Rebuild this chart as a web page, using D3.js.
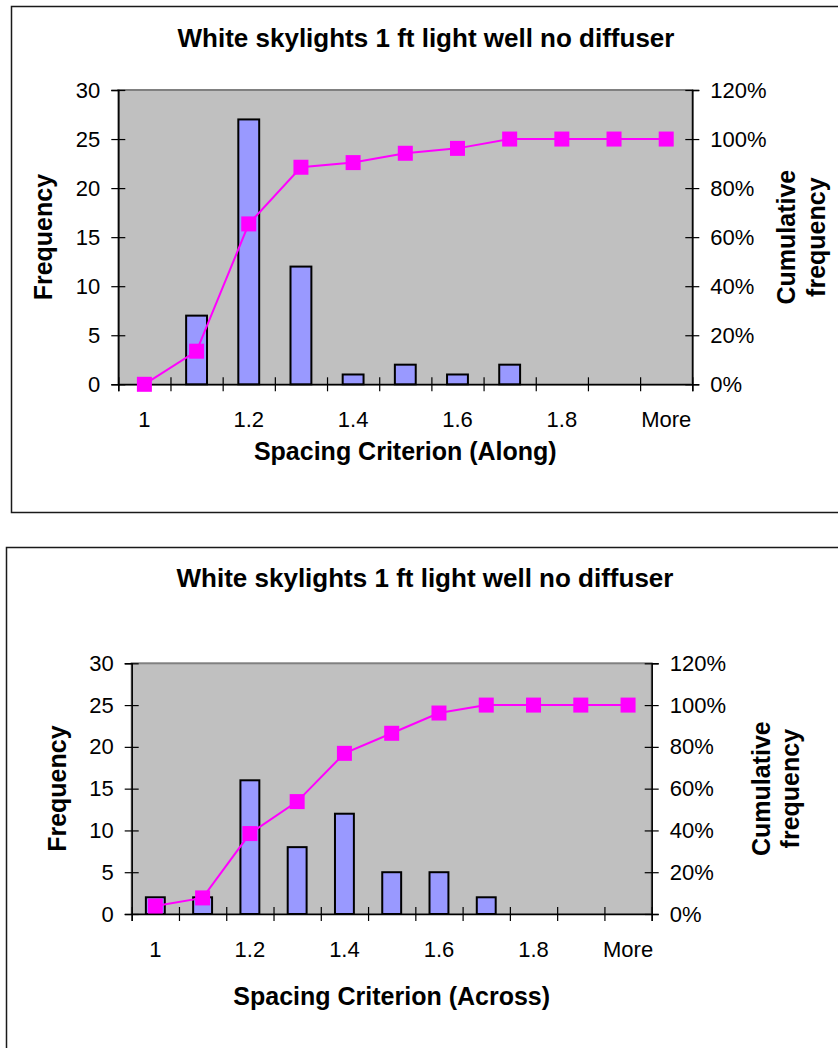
<!DOCTYPE html>
<html>
<head>
<meta charset="utf-8">
<script src="https://cdn.jsdelivr.net/npm/d3@7"></script>
<style>
  html, body { margin: 0; padding: 0; background: #fff; }
  svg { display: block; font-family: "Liberation Sans", Arial, sans-serif; }
</style>
</head>
<body>
<svg id="chart" width="838" height="1048"></svg>
<script>
// categories (histogram bins) and the labels shown under the axis
const categories = ["1", "1.1", "1.2", "1.3", "1.4", "1.5", "1.6", "1.7", "1.8", "1.9", "More"];
const shownLabels = ["1", "1.2", "1.4", "1.6", "1.8", "More"];

// Along
const alongFreq = [0, 7, 27, 12, 1, 2, 1, 2, 0, 0, 0];
const alongCum = [0, 13.5, 65.4, 88.5, 90.4, 94.2, 96.2, 100, 100, 100, 100];

// Across
const acrossFreq = [2, 2, 16, 8, 12, 5, 5, 2, 0, 0, 0];
const acrossCum = [3.8, 7.7, 38.5, 53.8, 76.9, 86.5, 96.2, 100, 100, 100, 100];

const freqTicks = [0, 5, 10, 15, 20, 25, 30];
const pctTicks = [0, 20, 40, 60, 80, 100, 120];

const chartTitle = "White skylights 1 ft light well no diffuser";

const svg = d3.select("#chart");

function drawChart(cfg) {
    const g = svg.append("g");

    // outer chart frame (right / bottom run off the page)
    g.append("rect")
        .attr("x", cfg.frame.x).attr("y", cfg.frame.y)
        .attr("width", cfg.frame.w).attr("height", cfg.frame.h)
        .attr("fill", "none").attr("stroke", "#1a1a1a").attr("stroke-width", 1.5);

    const p = cfg.plot;
    const x = d3.scaleBand()
        .domain(categories)
        .range([p.l, p.r])
        .paddingInner(0.6)
        .paddingOuter(0.3);
    const xEdge = d3.scaleLinear().domain([0, categories.length]).range([p.l, p.r]);
    const y = d3.scaleLinear().domain([0, 30]).range([p.b, p.t]);
    const y2 = d3.scaleLinear().domain([0, 120]).range([p.b, p.t]);

    // plot area
    g.append("rect")
        .attr("x", p.l).attr("y", p.t)
        .attr("width", p.r - p.l).attr("height", p.b - p.t)
        .attr("fill", "#c0c0c0").attr("stroke", "#808080").attr("stroke-width", 2);

    // bars
    g.append("g")
        .selectAll("rect")
        .data(cfg.freq)
        .join("rect")
        .attr("x", (d, i) => x(categories[i]))
        .attr("y", d => y(d))
        .attr("width", x.bandwidth())
        .attr("height", d => y(0) - y(d))
        .attr("fill", "#9999ff")
        .attr("stroke", "#000")
        .attr("stroke-width", 2);

    // left axis
    const yAxis = g.append("g")
        .attr("transform", `translate(${p.l},0)`)
        .call(d3.axisLeft(y).tickValues(freqTicks).tickSize(7).tickPadding(11));
    yAxis.selectAll(".tick line").attr("x1", 7);

    // right axis
    const y2Axis = g.append("g")
        .attr("transform", `translate(${p.r},0)`)
        .call(d3.axisRight(y2).tickValues(pctTicks).tickSize(7).tickPadding(11)
            .tickFormat(d => d + "%"));
    y2Axis.selectAll(".tick line").attr("x1", -7);

    // bottom axis: tick marks on bin edges
    const xAxis = g.append("g")
        .attr("transform", `translate(0,${p.b})`)
        .call(d3.axisBottom(xEdge).tickValues(d3.range(categories.length + 1))
            .tickSize(7).tickFormat(""));
    xAxis.selectAll(".tick line").attr("y1", -7);

    // bottom axis labels on every other bin
    const xLabels = g.append("g")
        .attr("transform", `translate(0,${p.b})`)
        .call(d3.axisBottom(x).tickSize(0).tickPadding(27)
            .tickFormat(d => shownLabels.includes(d) ? d : ""));
    xLabels.select(".domain").remove();

    [yAxis, y2Axis, xAxis, xLabels].forEach(a => {
        a.selectAll(".domain").attr("stroke", "#000").attr("stroke-width", 1.5);
        a.selectAll(".tick line").attr("stroke", "#000").attr("stroke-width", 1.2);
        a.selectAll("text")
            .attr("font-family", "Liberation Sans, Arial, sans-serif")
            .attr("font-size", 22)
            .attr("fill", "#000");
    });

    // cumulative line
    const cx = i => x(categories[i]) + x.bandwidth() / 2;
    const line = d3.line()
        .x((d, i) => cx(i))
        .y(d => y2(d));
    g.append("path")
        .datum(cfg.cum)
        .attr("d", line)
        .attr("fill", "none")
        .attr("stroke", "#ff00ff")
        .attr("stroke-width", 2);
    g.append("g")
        .selectAll("rect")
        .data(cfg.cum)
        .join("rect")
        .attr("x", (d, i) => cx(i) - 7.5)
        .attr("y", d => y2(d) - 7.5)
        .attr("width", 15)
        .attr("height", 15)
        .attr("fill", "#ff00ff");

    // titles
    g.append("text")
        .attr("x", cfg.titleX).attr("y", cfg.titleY)
        .attr("text-anchor", "middle")
        .attr("font-size", 26).attr("font-weight", "bold")
        .text(chartTitle);

    g.append("text")
        .attr("x", (p.l + p.r) / 2).attr("y", cfg.xTitleY)
        .attr("text-anchor", "middle")
        .attr("font-size", 25).attr("font-weight", "bold")
        .text(cfg.xTitle);

    const cy = (p.t + p.b) / 2;
    g.append("text")
        .attr("transform", `translate(${cfg.yTitleX},${cy}) rotate(-90)`)
        .attr("text-anchor", "middle")
        .attr("font-size", 25).attr("font-weight", "bold")
        .text("Frequency");

    const rt = g.append("text")
        .attr("transform", `translate(${cfg.y2TitleX},${cy}) rotate(-90)`)
        .attr("text-anchor", "middle")
        .attr("font-size", 25).attr("font-weight", "bold");
    rt.append("tspan").attr("x", 0).attr("y", 0).text("Cumulative");
    rt.append("tspan").attr("x", 0).attr("y", 29.5).text("frequency");
}

drawChart({
    frame: {x: 11.5, y: 6.5, w: 900, h: 506},
    plot: {l: 118.3, r: 692.3, t: 90, b: 384.3},
    freq: alongFreq,
    cum: alongCum,
    titleX: 426, titleY: 46.5,
    xTitle: "Spacing Criterion (Along)", xTitleY: 460,
    yTitleX: 52, y2TitleX: 795
});

drawChart({
    frame: {x: 6.5, y: 547.5, w: 900, h: 600},
    plot: {l: 131.7, r: 651.7, t: 663.3, b: 914},
    freq: acrossFreq,
    cum: acrossCum,
    titleX: 425, titleY: 587,
    xTitle: "Spacing Criterion (Across)", xTitleY: 1005,
    yTitleX: 66, y2TitleX: 769.5
});
</script>
</body>
</html>
